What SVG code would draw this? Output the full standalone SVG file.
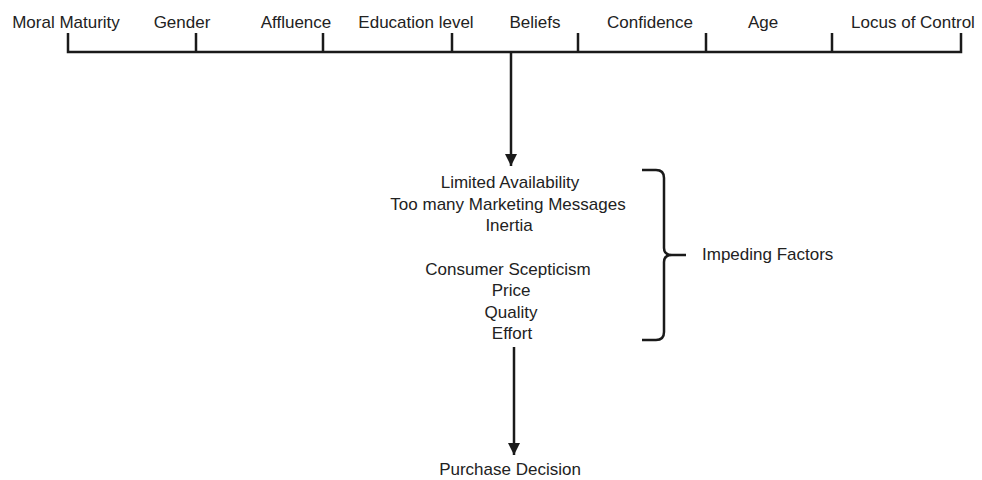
<svg xmlns="http://www.w3.org/2000/svg" width="982" height="480" viewBox="0 0 982 480">
<style>
text{font-family:"Liberation Sans",Arial,sans-serif;font-size:17px;fill:#222;}
.c{text-anchor:middle;}
.ln{stroke:#1a1a1a;stroke-width:2.5;fill:none;}
</style>
<defs>
<marker id="ah" viewBox="0 0 10 10" refX="10" refY="5" markerWidth="5" markerHeight="6" markerUnits="strokeWidth" orient="auto">
<path d="M0,0 L10,5 L0,10 z" fill="#1a1a1a"/>
</marker>
</defs>
<rect width="982" height="480" fill="#fff"/>
<g id="factors">
<text x="66" y="28" class="c">Moral Maturity</text>
<text x="182" y="28" class="c">Gender</text>
<text x="296" y="28" class="c">Affluence</text>
<text x="416" y="28" class="c">Education level</text>
<text x="535" y="28" class="c">Beliefs</text>
<text x="650" y="28" class="c">Confidence</text>
<text x="763" y="28" class="c">Age</text>
<text x="913" y="28" class="c">Locus of Control</text>
</g>
<g id="connectors">
<path class="ln" d="M68,33 V52 H961 V33 M196,33 V52 M323,33 V52 M452,33 V52 M578,33 V52 M706,33 V52 M832,33 V52"/>
<path class="ln" d="M511,52 V166" marker-end="url(#ah)"/>
<path class="ln" d="M514,347 V455" marker-end="url(#ah)"/>
</g>
<g id="impeding">
<text x="510" y="188" class="c">Limited Availability</text>
<text x="508" y="210" class="c">Too many Marketing Messages</text>
<text x="509" y="231" class="c">Inertia</text>
<text x="508" y="275" class="c">Consumer Scepticism</text>
<text x="511" y="296" class="c">Price</text>
<text x="511" y="318" class="c">Quality</text>
<text x="512" y="339" class="c">Effort</text>
</g>
<g id="brace">
<path class="ln" d="M642,170 H656 Q664,170 664,178 V248 Q664,255 672,255 H686 M672,255 Q664,255 664,262 V332 Q664,340 656,340 H642"/>
<text x="702" y="260">Impeding Factors</text>
</g>
<g id="decision">
<text x="510" y="475" class="c">Purchase Decision</text>
</g>
</svg>
